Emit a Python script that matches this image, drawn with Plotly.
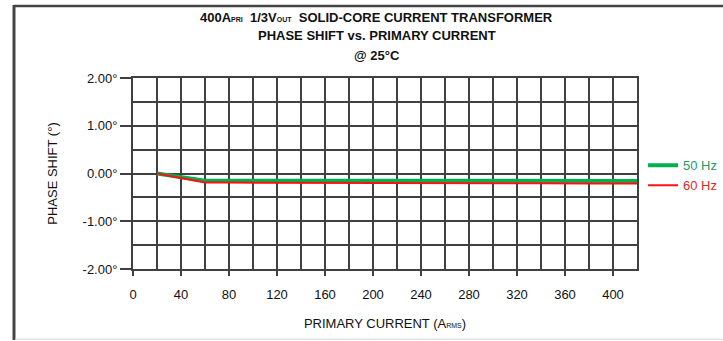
import plotly.graph_objects as go

# Primary current (A RMS) and measured phase shift (degrees)
current = [20, 40, 60, 80, 100, 140, 180, 220, 260, 300, 340, 380, 420]
shift_50hz = [0.00, -0.07, -0.15, -0.15, -0.15, -0.15, -0.15, -0.155, -0.155, -0.155, -0.155, -0.155, -0.155]
shift_60hz = [0.00, -0.10, -0.19, -0.19, -0.19, -0.19, -0.19, -0.195, -0.20, -0.20, -0.205, -0.21, -0.21]

x_labels = [0, 40, 80, 120, 160, 200, 240, 280, 320, 360, 400]
y_labels = [-2, -1, 0, 1, 2]
y_text = ["-2.00°", "-1.00°", "0.00°", "1.00°", "2.00°"]

title_lines = [
    "<b>400A<span style='font-size:7px'>PRI</span>  1/3V<span style='font-size:7px'>OUT</span>"
    "  SOLID-CORE CURRENT TRANSFORMER</b>",
    "<b>PHASE SHIFT vs. PRIMARY CURRENT</b>",
    "<b>@ 25°C</b>",
]

FONT = "Liberation Sans Narrow, Arial Narrow, Liberation Sans, Arial, sans-serif"
GRID = "#404040"

fig = go.Figure()
fig.add_trace(go.Scatter(
    x=current, y=shift_50hz, mode="lines",
    line=dict(color="#00b050", width=4),
    name="<span style='color:#1f9a6a'>50 Hz</span>",
))
fig.add_trace(go.Scatter(
    x=current, y=shift_60hz, mode="lines",
    line=dict(color="#ff1010", width=2),
    name="<span style='color:#e0282a'>60 Hz</span>",
))

# three title lines, placed one by one
for txt, ypos in zip(title_lines, [1.319, 1.22, 1.12]):
    fig.add_annotation(text=txt, xref="paper", yref="paper", x=0.484, y=ypos,
                       xanchor="center", yanchor="middle", showarrow=False,
                       font=dict(family=FONT, size=13, color="#111111"))

fig.update_layout(
    width=723, height=341,
    margin=dict(l=133, r=86, t=78, b=72, autoexpand=False),
    paper_bgcolor="white", plot_bgcolor="white",
    font=dict(family=FONT, size=13, color="#111111"),
    showlegend=True,
    legend=dict(x=1.012, xanchor="left", y=0.49, yanchor="middle",
                bgcolor="rgba(0,0,0,0)", font=dict(size=13),
                itemwidth=30, tracegroupgap=0),
    xaxis=dict(
        range=[0, 420], tickvals=x_labels, ticktext=[str(v) for v in x_labels],
        ticks="outside", ticklen=5, tickwidth=2, tickcolor=GRID,
        ticklabelstandoff=7, tickfont=dict(size=13),
        showgrid=True, gridcolor=GRID, gridwidth=2,
        minor=dict(dtick=20, tick0=0, showgrid=True, gridcolor=GRID, gridwidth=2),
        showline=True, mirror=True, linecolor=GRID, linewidth=2,
        zeroline=False, fixedrange=True,
        title=dict(text="PRIMARY CURRENT (A<span style='font-size:7px'>RMS</span>)",
                   standoff=18, font=dict(size=13)),
    ),
    yaxis=dict(
        range=[-2, 2], tickvals=y_labels, ticktext=y_text,
        ticks="outside", ticklen=11, tickwidth=2, tickcolor=GRID,
        tickfont=dict(size=13),
        showgrid=True, gridcolor=GRID, gridwidth=2,
        minor=dict(dtick=0.5, tick0=0, showgrid=True, gridcolor=GRID, gridwidth=2),
        showline=True, mirror=True, linecolor=GRID, linewidth=2,
        zeroline=False, fixedrange=True,
        title=dict(text="PHASE SHIFT (°)", standoff=22, font=dict(size=13)),
    ),
    shapes=[
        # outer frame: left and top edges dark, bottom edge faint
        dict(type="line", xref="paper", yref="paper", x0=-0.2361, x1=-0.2361, y0=-0.372, y1=1.382,
             line=dict(color="#444444", width=3)),
        dict(type="line", xref="paper", yref="paper", x0=-0.2361, x1=1.2, y0=1.377, y1=1.377,
             line=dict(color="#444444", width=2.5)),
        dict(type="line", xref="paper", yref="paper", x0=-0.233, x1=1.2, y0=-0.368, y1=-0.368,
             line=dict(color="#e4e4e4", width=1.5)),
    ],
)

fig.write_html("out.html")
